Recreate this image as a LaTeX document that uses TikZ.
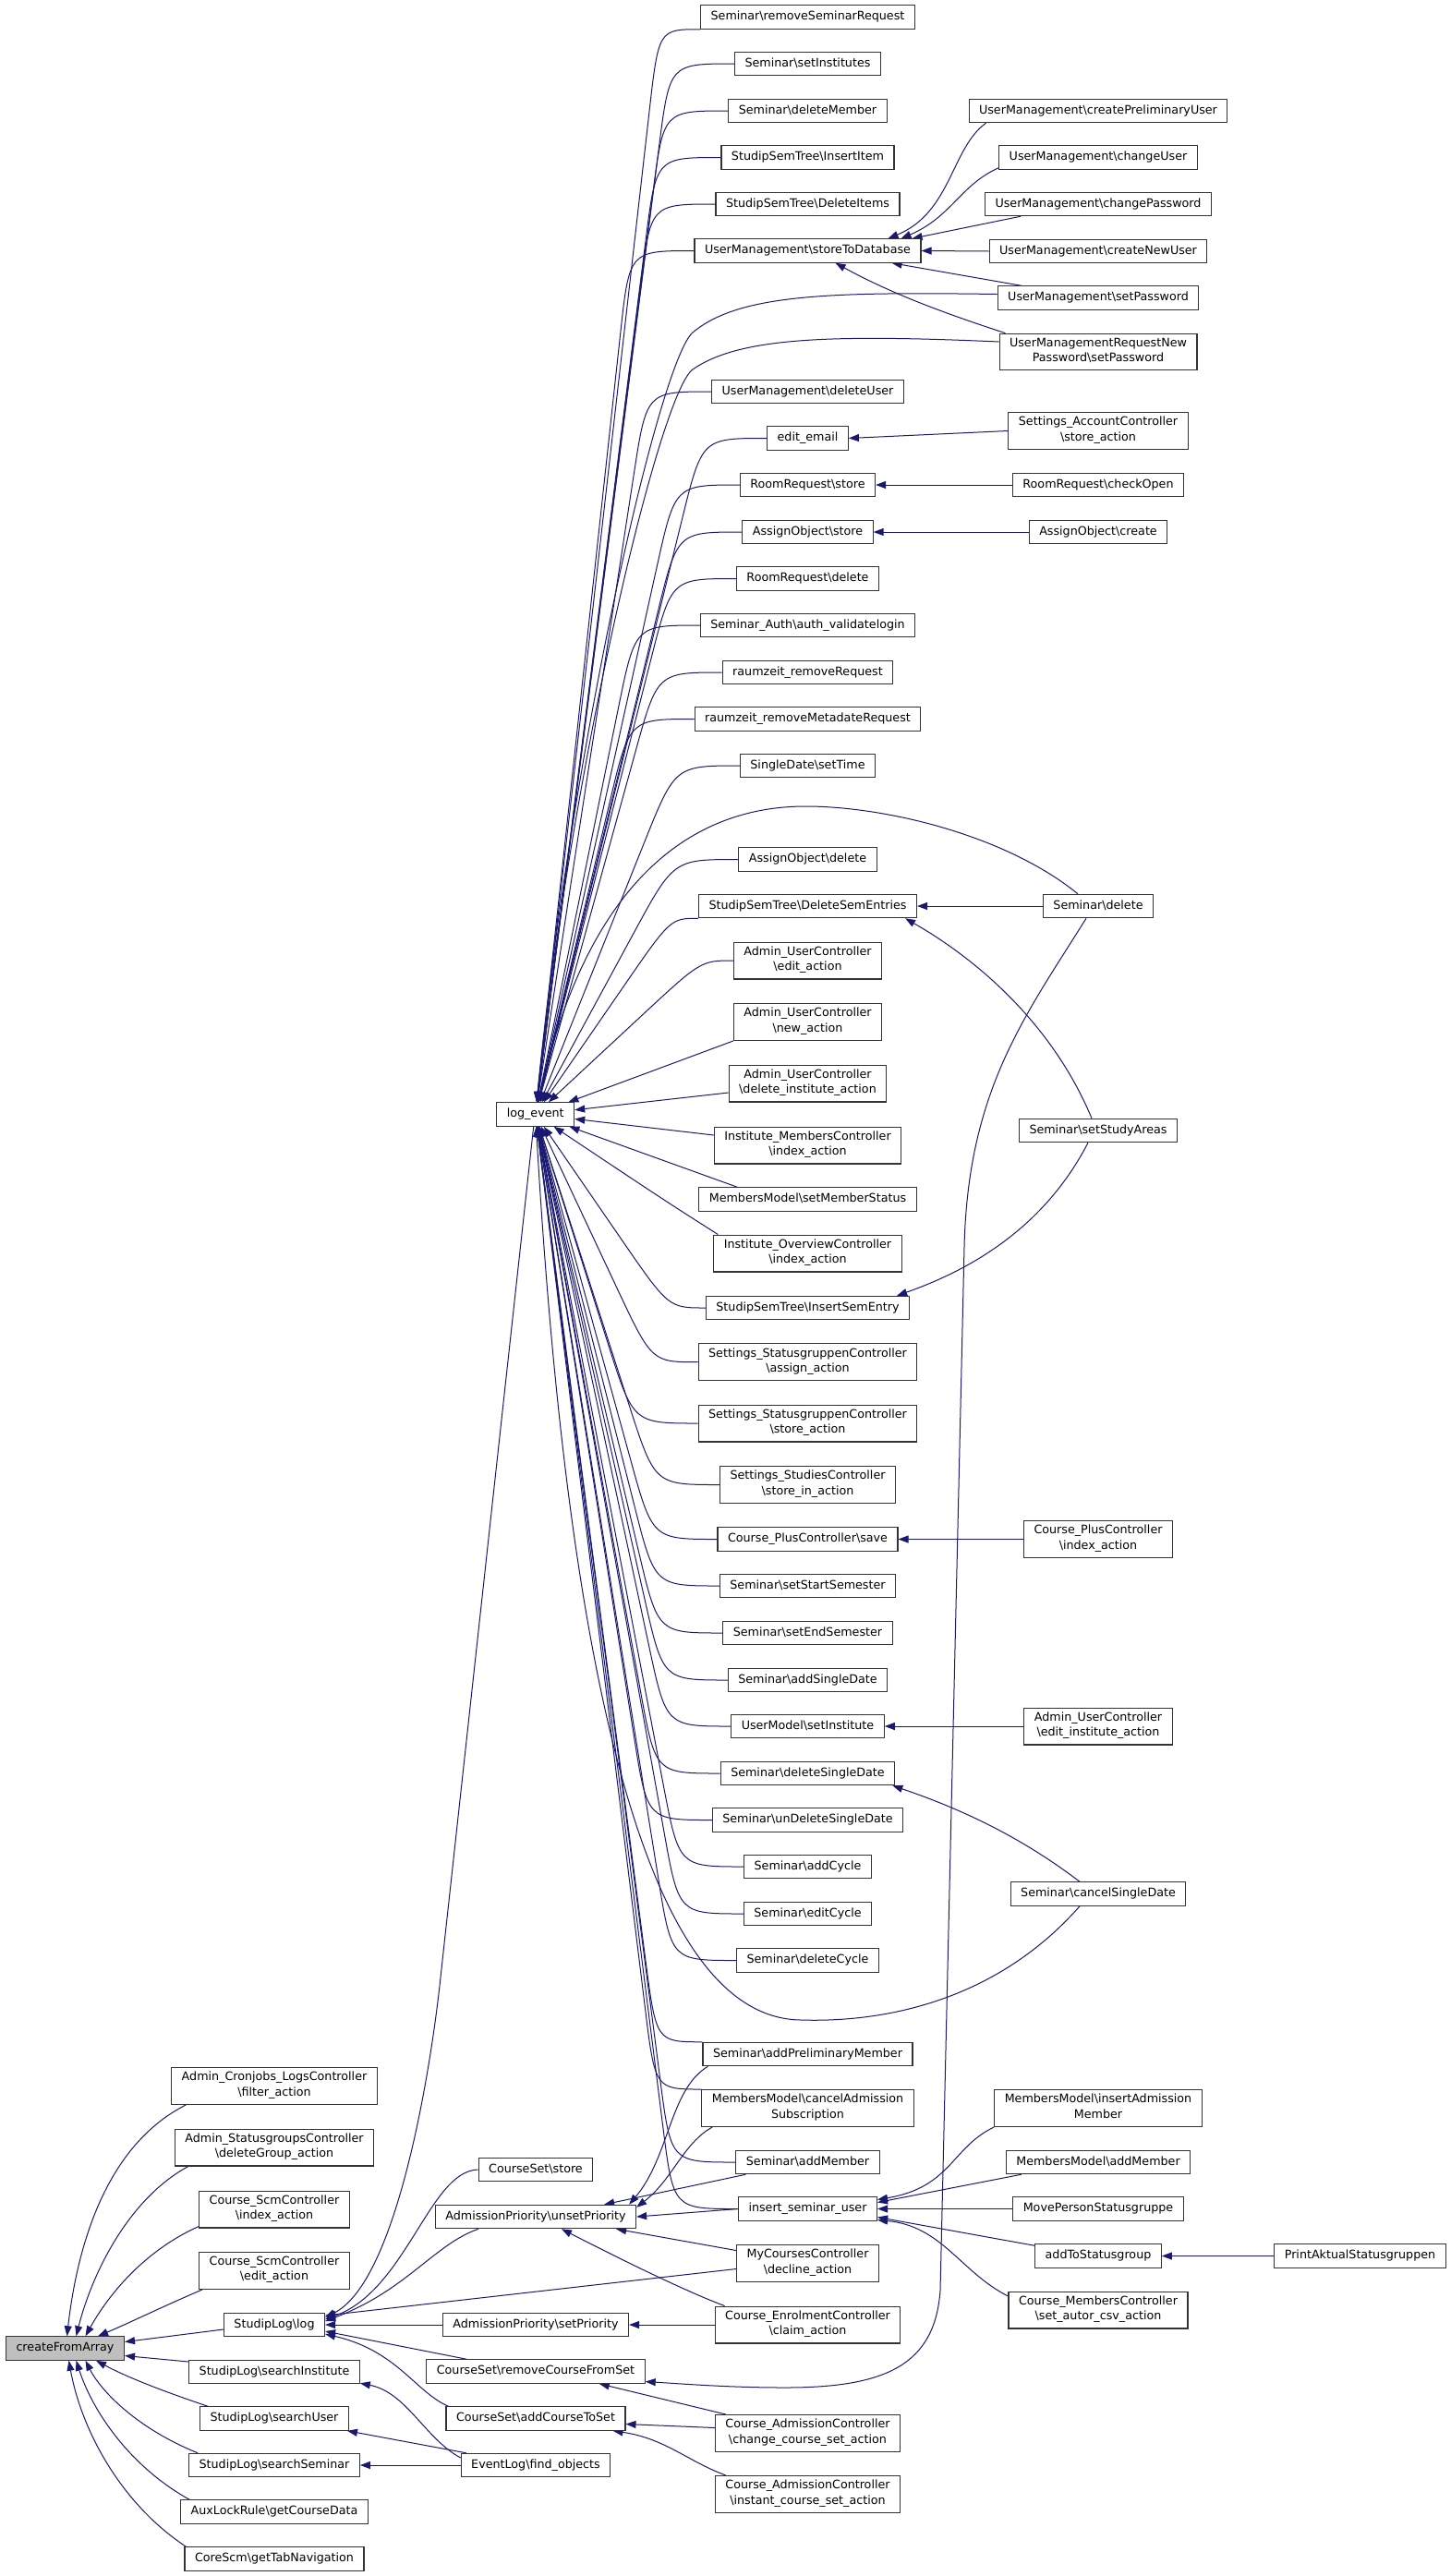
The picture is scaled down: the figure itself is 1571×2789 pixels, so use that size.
\documentclass[tikz,border=0pt]{standalone}
\usepackage{fontspec}
\setmainfont{DejaVu Sans}
\usetikzlibrary{arrows.meta,calc}
\definecolor{edgeblue}{HTML}{191970}
\pgfdeclarelayer{back}
\pgfdeclarelayer{edges}
\pgfsetlayers{back,edges,main}
\newcommand\myBS{\textbackslash}
\newcommand\twoL[2]{#1\\\strut #2}
\newcommand\toLE[2][70]{%
  \coordinate (cA) at ($(#2)+(-#1,0)$);
  \draw[edge] (#2) .. controls (cA) .. ($(cA)!90pt!(le)$) -- (le);}
\begin{document}
\begin{tikzpicture}[x=1pt,y=-1pt,
  box/.style={draw=black!80, fill=white, line width=1.1pt, inner xsep=11pt, inner ysep=4.6pt,
    align=center, font=\fontsize{12.7}{16.2}\selectfont, execute at begin node=\strut},
  edge/.style={draw=edgeblue, line width=1pt, -{Triangle[length=11pt,width=8pt]}, fill=none}]
\begin{pgfonlayer}{back}
\fill[white] (0,0) rectangle (1571,2789);
\end{pgfonlayer}
\useasboundingbox (0,0) rectangle (1571,2789);
% ---------------- column 4
\node[box] (n1) at (874.5,18.5) {Seminar\myBS removeSeminarRequest};
\node[box] (n2) at (874.5,69) {Seminar\myBS setInstitutes};
\node[box] (n3) at (874.5,120) {Seminar\myBS deleteMember};
\node[box] (n4) at (874.5,170.5) {StudipSemTree\myBS InsertItem};
\node[box] (n5) at (874.5,221) {StudipSemTree\myBS DeleteItems};
\node[box] (n6) at (874.5,271.5) {UserManagement\myBS storeToDatabase};
\node[box] (n7) at (874.5,424) {UserManagement\myBS deleteUser};
\node[box] (n8) at (874.5,474.5) {edit\_email};
\node[box] (n9) at (874.5,525) {RoomRequest\myBS store};
\node[box] (n10) at (874.5,576) {AssignObject\myBS store};
\node[box] (n11) at (874.5,626.5) {RoomRequest\myBS delete};
\node[box] (n12) at (874.5,677) {Seminar\_Auth\myBS auth\_validatelogin};
\node[box] (n13) at (874.5,728) {raumzeit\_removeRequest};
\node[box] (n14) at (874.5,778.5) {raumzeit\_removeMetadateRequest};
\node[box] (n15) at (874.5,829) {SingleDate\myBS setTime};
\node[box] (n16) at (874.5,930.5) {AssignObject\myBS delete};
\node[box] (n17) at (874.5,981) {StudipSemTree\myBS DeleteSemEntries};
\node[box] (n18) at (874.5,1040) {\twoL{Admin\_UserController}{\myBS edit\_action}};
\node[box] (n19) at (874.5,1106.5) {\twoL{Admin\_UserController}{\myBS new\_action}};
\node[box] (n20) at (874.5,1173) {\twoL{Admin\_UserController}{\myBS delete\_institute\_action}};
\node[box] (n21) at (874.5,1240) {\twoL{Institute\_MembersController}{\myBS index\_action}};
\node[box] (n22) at (874.5,1298.5) {MembersModel\myBS setMemberStatus};
\node[box] (n23) at (874.5,1357) {\twoL{Institute\_OverviewController}{\myBS index\_action}};
\node[box] (n24) at (874.5,1416) {StudipSemTree\myBS InsertSemEntry};
\node[box] (n25) at (874.5,1474.7) {\twoL{Settings\_StatusgruppenController}{\myBS assign\_action}};
\node[box] (n26) at (874.5,1541) {\twoL{Settings\_StatusgruppenController}{\myBS store\_action}};
\node[box] (n27) at (874.5,1607.5) {\twoL{Settings\_StudiesController}{\myBS store\_in\_action}};
\node[box] (n28) at (874.5,1666.5) {Course\_PlusController\myBS save};
\node[box] (n29) at (874.5,1717) {Seminar\myBS setStartSemester};
\node[box] (n30) at (874.5,1768) {Seminar\myBS setEndSemester};
\node[box] (n31) at (874.5,1819) {Seminar\myBS addSingleDate};
\node[box] (n32) at (874.5,1869) {UserModel\myBS setInstitute};
\node[box] (n33) at (874.5,1920) {Seminar\myBS deleteSingleDate};
\node[box] (n34) at (874.5,1970.5) {Seminar\myBS unDeleteSingleDate};
\node[box] (n35) at (874.5,2021) {Seminar\myBS addCycle};
\node[box] (n36) at (874.5,2072) {Seminar\myBS editCycle};
\node[box] (n37) at (874.5,2122.5) {Seminar\myBS deleteCycle};
\node[box] (n38) at (874.5,2224) {Seminar\myBS addPreliminaryMember};
\node[box] (n39) at (874.5,2282.5) {\twoL{MembersModel\myBS cancelAdmission}{Subscription}};
\node[box] (n40) at (874.5,2341) {Seminar\myBS addMember};
\node[box] (n41) at (874.5,2391.5) {insert\_seminar\_user};
\node[box] (n42) at (874.5,2450.5) {\twoL{MyCoursesController}{\myBS decline\_action}};
\node[box] (n43) at (874.5,2517) {\twoL{Course\_EnrolmentController}{\myBS claim\_action}};
\node[box] (n44) at (874.5,2634.5) {\twoL{Course\_AdmissionController}{\myBS change\_course\_set\_action}};
\node[box] (n45) at (874.5,2700.5) {\twoL{Course\_AdmissionController}{\myBS instant\_course\_set\_action}};
% ---------------- column 5
\node[box] (c1) at (1189,120) {UserManagement\myBS createPreliminaryUser};
\node[box] (c2) at (1189,170.5) {UserManagement\myBS changeUser};
\node[box] (c3) at (1189,221) {UserManagement\myBS changePassword};
\node[box] (c4) at (1189,272) {UserManagement\myBS createNewUser};
\node[box] (c5) at (1189,322.5) {UserManagement\myBS setPassword};
\node[box] (c6) at (1189,381) {\twoL{UserManagementRequestNew}{Password\myBS setPassword}};
\node[box] (c7) at (1189,466.5) {\twoL{Settings\_AccountController}{\myBS store\_action}};
\node[box] (c8) at (1189,525) {RoomRequest\myBS checkOpen};
\node[box] (c9) at (1189,576) {AssignObject\myBS create};
\node[box] (c10) at (1189,981) {Seminar\myBS delete};
\node[box] (c11) at (1189,1224) {Seminar\myBS setStudyAreas};
\node[box] (c12) at (1189,1666.5) {\twoL{Course\_PlusController}{\myBS index\_action}};
\node[box] (c13) at (1189,1869) {\twoL{Admin\_UserController}{\myBS edit\_institute\_action}};
\node[box] (c14) at (1189,2050.5) {Seminar\myBS cancelSingleDate};
\node[box] (c15) at (1189,2282.5) {\twoL{MembersModel\myBS insertAdmission}{Member}};
\node[box] (c16) at (1189,2341) {MembersModel\myBS addMember};
\node[box] (c17) at (1189,2391.5) {MovePersonStatusgruppe};
\node[box] (c18) at (1189,2442.5) {addToStatusgroup};
\node[box] (c19) at (1189,2501) {\twoL{Course\_MembersController}{\myBS set\_autor\_csv\_action}};
\node[box] (d1) at (1472.5,2442.5) {PrintAktualStatusgruppen};
% ---------------- column 3
\node[box] (le) at (579.7,1206.5) {log\_event};
\node[box] (csStore) at (580,2349) {CourseSet\myBS store};
\node[box] (usp) at (580,2400) {AdmissionPriority\myBS unsetPriority};
\node[box] (setPri) at (580,2517) {AdmissionPriority\myBS setPriority};
\node[box] (rcfs) at (580,2567.5) {CourseSet\myBS removeCourseFromSet};
\node[box] (acts) at (580,2618.5) {CourseSet\myBS addCourseToSet};
\node[box] (fo) at (580,2669) {EventLog\myBS find\_objects};
% ---------------- column 2
\node[box] (cron) at (297,2258.5) {\twoL{Admin\_Cronjobs\_LogsController}{\myBS filter\_action}};
\node[box] (sgc) at (297,2325) {\twoL{Admin\_StatusgroupsController}{\myBS deleteGroup\_action}};
\node[box] (scmIdx) at (297,2392) {\twoL{Course\_ScmController}{\myBS index\_action}};
\node[box] (scmEdit) at (297,2458.3) {\twoL{Course\_ScmController}{\myBS edit\_action}};
\node[box] (slog) at (297,2517) {StudipLog\myBS log};
\node[box] (sInst) at (297,2568) {StudipLog\myBS searchInstitute};
\node[box] (sUser) at (297,2618.5) {StudipLog\myBS searchUser};
\node[box] (sSem) at (297,2669) {StudipLog\myBS searchSeminar};
\node[box] (aux) at (297,2719.5) {AuxLockRule\myBS getCourseData};
\node[box] (core) at (297,2770.5) {CoreScm\myBS getTabNavigation};
\node[box, fill=black!25] (cfa) at (70.5,2542.5) {createFromArray};
% ---------------- edges
\begin{pgfonlayer}{edges}
% into log_event
\toLE[45]{n1.south west}
\toLE{n2.west}
\toLE{n3.west}
\toLE{n4.west}
\toLE{n5.west}
\toLE{n6.west}
\toLE{n7.west}
\toLE{n8.west}
\toLE{n9.west}
\toLE{n10.west}
\toLE{n11.west}
\toLE{n12.west}
\toLE{n13.west}
\toLE{n14.west}
\toLE{n15.west}
\toLE{n16.west}
\toLE[30]{n17.south west}
\toLE[35]{n18.west}
\draw[edge] (n19.south west) -- (le);
\draw[edge] ($(n20.west)+(0,10)$) -- (le);
\draw[edge] ($(n21.west)+(0,-11)$) -- (le);
\draw[edge] ($(n22.north west)+(42,0)$) -- (le);
\draw[edge] ($(n23.north west)+(5,0)$) .. controls (720,1300) .. (le);
\toLE[40]{n24.west}
\toLE[50]{n25.west}
\toLE{n26.west}
\toLE{n27.west}
\toLE{n28.west}
\toLE{n29.west}
\toLE{n30.west}
\toLE{n31.west}
\toLE{n32.west}
\toLE{n33.west}
\toLE{n34.west}
\toLE{n35.west}
\toLE{n36.west}
\toLE{n37.west}
\toLE[50]{n38.north west}
\toLE[50]{n39.north west}
\toLE{n40.west}
\toLE{n41.west}
% user management cluster
\draw[edge] ($(c1.south west)+(19,0)$) .. controls (1030,160) and (1030,230) .. ($(n6.north east)+(-36,0)$);
\draw[edge] ($(c2.south west)+(0,-2)$) .. controls (1040,200) and (1030,235) .. ($(n6.north east)+(-22,0)$);
\draw[edge] ($(c3.south west)+(39,0)$) -- ($(n6.north east)+(-10,0)$);
\draw[edge] (c4.west) -- (n6.east);
\draw[edge] ($(c5.north west)+(26,0)$) -- ($(n6.south east)+(-32,0)$);
\draw[edge] ($(c6.north west)+(7,0)$) .. controls (1010,335) and (960,315) .. ($(n6.south east)+(-93,0)$);
\draw[edge] ($(c5.west)+(0,-4)$) .. controls (900,316) and (800,318) .. (750,360) .. controls (715,390) and (620,800) .. (le);
\draw[edge] ($(c6.west)+(0,-11)$) .. controls (900,362) and (800,365) .. (750,400) .. controls (715,425) and (620,820) .. (le);
% horizontals
\draw[edge] (c7.west) -- (n8.east);
\draw[edge] (c8.west) -- (n9.east);
\draw[edge] (c9.west) -- (n10.east);
\draw[edge] (c10.west) -- (n17.east);
\draw[edge] (c12.west) -- (n28.east);
\draw[edge] (c13.west) -- (n32.east);
\draw[edge] (c17.west) -- (n41.east);
\draw[edge] (d1.west) -- (c18.east);
% Seminar\delete
\draw[edge] ($(c10.north west)+(38,0)$) .. controls (1090,905) and (960,873) .. (872,873) .. controls (760,873) and (640,940) .. (le);
\draw[edge] ($(c10.south)+(-13,0)$) .. controls (1110,1100) and (1048,1180) .. (1044,1350) -- (1018,2480) .. controls (1012,2560) and (960,2585) .. (850,2585) .. controls (790,2585) and (740,2581) .. ($(rcfs.east)+(0,11)$);
% setStudyAreas
\draw[edge] ($(c11.north)+(-7,0)$) .. controls (1140,1110) and (1060,1040) .. ($(n17.south east)+(-13,0)$);
\draw[edge] ($(c11.south)+(-11,0)$) .. controls (1130,1330) and (1050,1375) .. ($(n24.north east)+(-14,0)$);
% cancelSingleDate
\draw[edge] ($(c14.north)+(-20,0)$) .. controls (1120,2000) and (1060,1965) .. ($(n33.south east)+(-3,0)$);
\draw[edge] ($(c14.south)+(-20,0)$) .. controls (1080,2165) and (960,2190) .. (867,2187) .. controls (720,2185) and (620,1900) .. (le);
% insert_seminar_user
\draw[edge] (c15.south west) .. controls (1030,2325) and (1030,2368) .. ($(n41.east)+(0,-10)$);
\draw[edge] ($(c16.south west)+(17,0)$) -- ($(n41.east)+(0,-7)$);
\draw[edge] ($(c18.north west)+(0,2)$) -- ($(n41.east)+(0,9)$);
\draw[edge] ($(c19.west)+(0,-15)$) .. controls (1040,2460) and (1020,2410) .. ($(n41.east)+(0,12)$);
% unsetPriority / setPriority
\draw[edge] ($(n38.south west)+(6,0)$) .. controls (725,2262) and (725,2335) .. ($(usp.north east)+(-8,0)$);
\draw[edge] ($(n39.south west)+(12,0)$) .. controls (740,2320) and (728,2360) .. ($(usp.north east)+(0,3)$);
\draw[edge] ($(n40.south west)+(11,0)$) -- ($(usp.north east)+(-35,0)$);
\draw[edge] (n41.west) -- (usp.east);
\draw[edge] ($(n42.west)+(0,-14)$) -- ($(usp.south east)+(-22,0)$);
\draw[edge] ($(n43.north west)+(11,0)$) .. controls (740,2480) and (660,2440) .. ($(usp.south)+(28,0)$);
\draw[edge] (n43.west) -- (setPri.east);
\draw[edge] ($(n42.west)+(0,6)$) -- ($(slog.east)+(0,-10)$);
% StudipLog\log
\draw[edge] ($(le.south)+(-2,0)$) -- (476,2150) .. controls (466,2240) and (430,2470) .. ($(slog.east)+(0,-8)$);
\draw[edge] (csStore.west) .. controls (465,2350) and (440,2480) .. ($(slog.east)+(0,-6)$);
\draw[edge] ($(usp.south west)+(47,0)$) .. controls (470,2430) and (440,2480) .. ($(slog.east)+(0,-4)$);
\draw[edge] (setPri.west) -- (slog.east);
\draw[edge] ($(rcfs.north west)+(44,0)$) -- ($(slog.east)+(0,7)$);
\draw[edge] ($(acts.north west)+(3,0)$) .. controls (450,2590) and (430,2545) .. ($(slog.east)+(0,10)$);
% createFromArray
\draw[edge] ($(cron.south west)+(16,0)$) .. controls (120,2320) and (85,2420) .. ($(cfa.north)+(2,0)$);
\draw[edge] ($(sgc.south west)+(15,0)$) .. controls (140,2380) and (100,2460) .. ($(cfa.north)+(12,0)$);
\draw[edge] ($(scmIdx.south west)+(0,-2)$) .. controls (160,2435) and (120,2480) .. ($(cfa.north)+(22,0)$);
\draw[edge] ($(scmEdit.south west)+(4,0)$) .. controls (170,2500) and (140,2515) .. ($(cfa.north east)+(-29,0)$);
\draw[edge] ($(slog.west)+(0,5)$) -- ($(cfa.east)+(0,-7)$);
\draw[edge] ($(sInst.west)+(0,-11)$) -- ($(cfa.east)+(0,8)$);
\draw[edge] ($(sUser.north west)+(9,0)$) .. controls (180,2590) and (140,2575) .. ($(cfa.south east)+(-31,0)$);
\draw[edge] ($(sSem.north west)+(10,0)$) .. controls (150,2630) and (110,2590) .. ($(cfa.south)+(22,0)$);
\draw[edge] ($(aux.north west)+(10,0)$) .. controls (140,2670) and (100,2610) .. ($(cfa.south)+(12,0)$);
\draw[edge] ($(core.north west)+(2,0)$) .. controls (130,2710) and (88,2630) .. ($(cfa.south)+(4,0)$);
% EventLog\find_objects
\draw[edge] ($(fo.west)+(0,-8)$) .. controls (460,2640) and (440,2590) .. ($(sInst.south east)+(0,-1)$);
\draw[edge] ($(fo.north west)+(6,0)$) -- ($(sUser.south east)+(-2,0)$);
\draw[edge] (fo.west) -- (sSem.east);
% Course_AdmissionController
\draw[edge] ($(n44.north west)+(12,0)$) -- ($(rcfs.south east)+(-50,0)$);
\draw[edge] ($(n44.west)+(0,-6)$) -- ($(acts.east)+(0,6)$);
\draw[edge] ($(n45.north west)+(12,0)$) .. controls (745,2665) and (720,2640) .. ($(acts.south east)+(-14,0)$);
\end{pgfonlayer}
\end{tikzpicture}
\end{document}
